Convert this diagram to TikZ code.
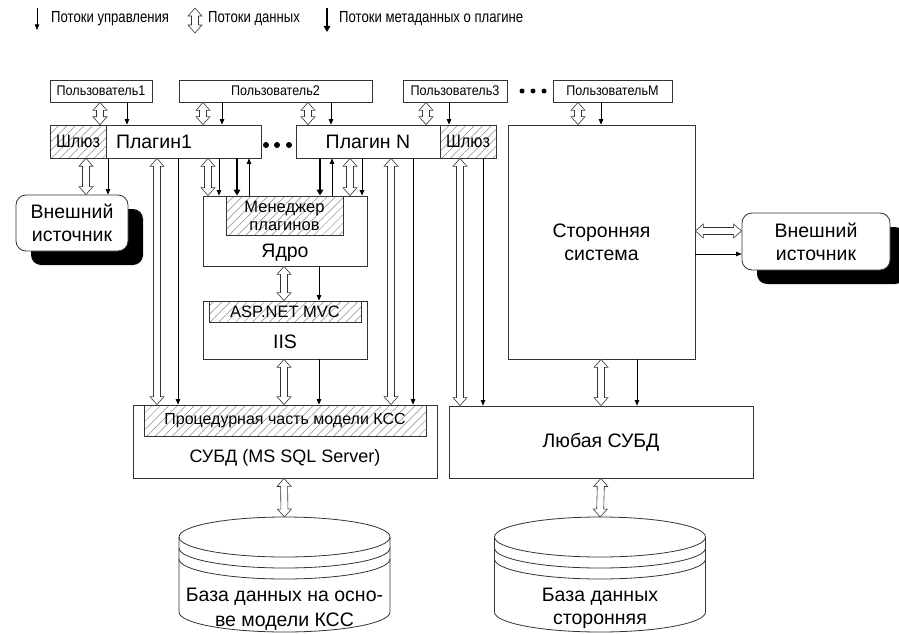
\documentclass[tikz,border=0pt]{standalone}
\usepackage{fontspec}
\setmainfont{Liberation Sans}
\newfontfamily\legfont[FakeStretch=0.82]{Liberation Sans}
\newfontfamily\usrfont[FakeStretch=0.9]{Liberation Sans}
\usetikzlibrary{calc,arrows.meta,patterns.meta,shadows}

\newcommand\dflow[2]{%
  \path (#1) coordinate (dfa) (#2) coordinate (dfb);
  \path ($(dfa)!8pt!(dfb)$) coordinate (dfa1) ($(dfb)!8pt!(dfa)$) coordinate (dfb1);
  \draw[dataflow] (dfa) -- ($(dfa1)!7pt!90:(dfb)$) -- ($(dfa1)!3.5pt!90:(dfb)$)
    -- ($(dfb1)!3.5pt!-90:(dfa)$) -- ($(dfb1)!7pt!-90:(dfa)$) -- (dfb)
    -- ($(dfb1)!7pt!90:(dfa)$) -- ($(dfb1)!3.5pt!90:(dfa)$)
    -- ($(dfa1)!3.5pt!-90:(dfb)$) -- ($(dfa1)!7pt!-90:(dfb)$) -- cycle;}

\newcommand\dbase[2]{%
  \coordinate (#2) at (#1,517);
  \draw[dbline] (#1-105.5,537) -- (#1-105.5,612)
    arc[start angle=180,end angle=0,x radius=105.5,y radius=20] -- (#1+105.5,537);
  \draw[dbline] (#1,537) ellipse[x radius=105.5,y radius=20];
  \foreach \yy in {548,559}
    \draw[dbline] (#1-105.5,\yy) arc[start angle=180,end angle=0,x radius=105.5,y radius=20];}

\begin{document}
\begin{tikzpicture}[x=1pt,y=-1pt,
  box/.style={draw=black!80,line width=0.8pt,fill=white,inner sep=1pt},
  hatch/.style={draw=black!80,line width=0.8pt,inner sep=1pt,preaction={fill=white},
    pattern={Lines[angle=45,distance=6pt,line width=0.5pt]},pattern color=black!45},
  ext/.style={box,rounded corners=10pt,align=center,
    drop shadow={shadow xshift=15pt,shadow yshift=-14pt,fill=black,opacity=1}},
  dbline/.style={draw=black!80,line width=0.8pt},
  ctrl/.style={line width=0.7pt,-{Triangle[length=5.5pt,width=4.5pt]}},
  meta/.style={line width=2pt,-{Triangle[length=6pt,width=6.5pt]}},
  dataflow/.style={draw=black!80,fill=white,line width=0.6pt,line join=miter},
  leg/.style={font=\legfont\fontsize{16}{18}\selectfont,inner sep=0pt,anchor=west},
  usr/.style={font=\usrfont\fontsize{14}{16}\selectfont},
  lbl/.style={font=\fontsize{19.5}{23}\selectfont},
  mid/.style={font=\fontsize{16.5}{18}\selectfont},
  gwf/.style={font=\usrfont\fontsize{18}{20}\selectfont}]
\useasboundingbox (0,0) rectangle (899,634);

\coordinate (lc1) at (37,8); \coordinate (lc2) at (37,30);
\draw[ctrl] (lc1) -- (lc2);
\node[leg] (lgc) at (51,19) {Потоки управления};
\coordinate (ld1) at (195,8); \coordinate (ld2) at (195,33);
\dflow{ld1}{ld2}
\node[leg] (lgd) at (208,19) {Потоки данных};
\coordinate (lm1) at (327,8); \coordinate (lm2) at (327,32);
\draw[meta] (lm1) -- (lm2);
\node[leg] (lgm) at (339,19) {Потоки метаданных о плагине};

\node[box,usr,minimum width=102pt,minimum height=22pt] (u1) at (101,91) {Пользователь1};
\node[box,usr,minimum width=193pt,minimum height=22pt] (u2) at (275.5,91) {Пользователь2};
\node[box,usr,minimum width=104pt,minimum height=22pt] (u3) at (455,91) {Пользователь3};
\node[box,usr,minimum width=119pt,minimum height=22pt] (uM) at (612.5,91) {ПользовательM};
\foreach \x in {522,533,544} \fill (\x,91) circle[radius=2.5pt];

\node[hatch,gwf,minimum width=56pt,minimum height=33pt] (gw1) at (78,141.5) {Шлюз};
\node[box,lbl,minimum height=33pt,text width=135pt,inner xsep=10pt,align=left] (plug1) at (183.5,141.5) {Плагин1};
\foreach \x in {266,277,289} \fill (\x,145) circle[radius=3pt];
\node[box,lbl,minimum width=144pt,minimum height=33pt] (plugN) at (368,141.5) {Плагин N};
\node[hatch,gwf,minimum width=56pt,minimum height=33pt] (gw2) at (468,141.5) {Шлюз};
\node[box,lbl,minimum width=187pt,minimum height=234pt,align=center] (sys) at (601.5,242) {Сторонняя\\система};

\node[ext,lbl,minimum width=112pt,minimum height=56pt] (ext1) at (72,223) {Внешний\\источник};
\node[ext,lbl,minimum width=148pt,minimum height=57pt] (ext2) at (816,241.5) {Внешний\\источник};

\node[box,minimum width=164pt,minimum height=70pt] (core) at (285,231) {};
\node[hatch,mid,minimum width=117pt,minimum height=39pt,align=center] (mgr) at (284.5,215.5) {Менеджер\\плагинов};
\node[lbl] (corel) at (285,253) {Ядро};

\node[box,minimum width=164pt,minimum height=58pt] (iis) at (285,330) {};
\node[hatch,mid,minimum width=152pt,minimum height=21pt] (asp) at (285,311.5) {ASP.NET MVC};
\node[lbl] (iisl) at (285,342) {IIS};

\node[box,minimum width=304pt,minimum height=73pt] (sql) at (285,441.5) {};
\node[hatch,mid,font=\fontsize{16}{18}\selectfont,minimum width=282pt,minimum height=31pt] (proc) at (285,420.5) {Процедурная часть модели КСС};
\node[lbl,font=\fontsize{18}{21}\selectfont] (sqll) at (285,458) {СУБД (MS SQL Server)};
\node[box,lbl,minimum width=304pt,minimum height=72pt] (any) at (601,442) {Любая СУБД};

\dbase{284.5}{base1}
\node[lbl,align=center,font=\fontsize{19.5}{25}\selectfont] (base1t) at (284.5,609.5) {База данных на осно-\\ве модели КСС};
\dbase{600}{base2}
\node[lbl,align=center] (base2t) at (600,608.5) {База данных\\сторонняя};

\dflow{u1.south -| 100,0}{gw1.north -| 100,0}
\draw[ctrl] (u1.south -| 127,0) -- (plug1.north -| 127,0);
\dflow{u2.south -| 203,0}{plug1.north -| 203,0}
\draw[ctrl] (u2.south -| 222,0) -- (plug1.north -| 222,0);
\dflow{u2.south -| 308,0}{plugN.north -| 308,0}
\draw[ctrl] (u2.south -| 331,0) -- (plugN.north -| 331,0);
\dflow{u3.south -| 426,0}{plugN.north -| 426,0}
\draw[ctrl] (u3.south -| 449,0) -- (gw2.north -| 449,0);
\dflow{uM.south -| 578,0}{sys.north -| 578,0}
\draw[ctrl] (uM.south -| 601,0) -- (sys.north -| 601,0);

\dflow{gw1.south -| 86,0}{ext1.north -| 86,0}
\draw[ctrl] (plug1.south -| 108,0) -- (ext1.north -| 108,0);
\dflow{plug1.south -| 157,0}{sql.north -| 157,0}
\draw[ctrl] (plug1.south -| 178,0) -- (sql.north -| 178,0);

\dflow{plug1.south -| 208,0}{core.north -| 208,0}
\draw[ctrl] (plug1.south -| 219,0) -- (core.north -| 219,0);
\draw[meta] (plug1.south -| 237,0) -- (core.north -| 237,0);
\draw[ctrl] (core.north -| 249,0) -- (plug1.south -| 249,0);
\draw[meta] (plugN.south -| 320,0) -- (core.north -| 320,0);
\draw[ctrl] (core.north -| 332,0) -- (plugN.south -| 332,0);
\dflow{plugN.south -| 350,0}{core.north -| 350,0}
\draw[ctrl] (plugN.south -| 362,0) -- (core.north -| 362,0);

\dflow{plugN.south -| 391,0}{sql.north -| 391,0}
\draw[ctrl] (plugN.south -| 413,0) -- (sql.north -| 413,0);
\dflow{gw2.south -| 460,0}{any.north -| 460,0}
\draw[ctrl] (gw2.south -| 483,0) -- (any.north -| 483,0);

\dflow{core.south -| 284,0}{iis.north -| 284,0}
\draw[ctrl] (core.south -| 319,0) -- (iis.north -| 319,0);
\dflow{iis.south -| 284,0}{sql.north -| 284,0}
\draw[ctrl] (iis.south -| 319,0) -- (sql.north -| 319,0);

\dflow{sys.south -| 601,0}{any.north -| 601,0}
\draw[ctrl] (sys.south -| 637,0) -- (any.north -| 637,0);
\dflow{sys.east |- 0,231}{ext2.west |- 0,231}
\draw[ctrl] (sys.east |- 0,254) -- (ext2.west |- 0,254);

\dflow{sql.south -| 284,0}{base1}
\dflow{any.south -| 601,0}{base2}
\end{tikzpicture}
\end{document}
